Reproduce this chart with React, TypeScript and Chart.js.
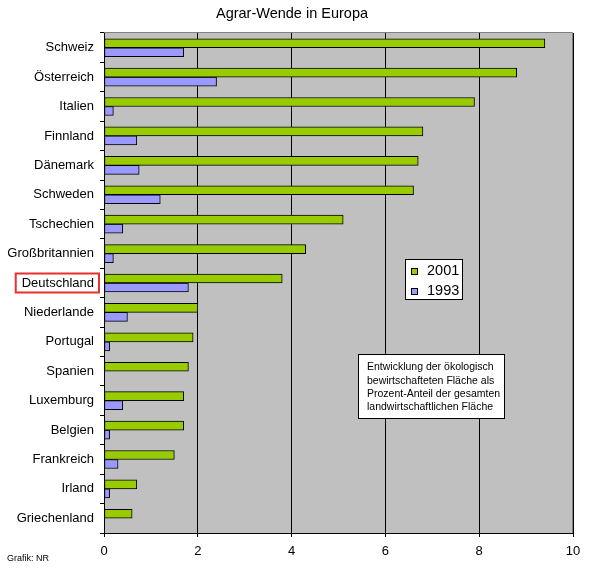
import React, { useEffect, useRef } from 'react';
import { Chart, registerables } from 'chart.js';

Chart.register(...registerables);

const countries = [
  'Schweiz', 'Österreich', 'Italien', 'Finnland', 'Dänemark', 'Schweden',
  'Tschechien', 'Großbritannien', 'Deutschland', 'Niederlande', 'Portugal',
  'Spanien', 'Luxemburg', 'Belgien', 'Frankreich', 'Irland', 'Griechenland',
];
const values2001 = [9.4, 8.8, 7.9, 6.8, 6.7, 6.6, 5.1, 4.3, 3.8, 2.0, 1.9, 1.8, 1.7, 1.7, 1.5, 0.7, 0.6];
const values1993 = [1.7, 2.4, 0.2, 0.7, 0.75, 1.2, 0.4, 0.2, 1.8, 0.5, 0.12, null, 0.4, 0.12, 0.3, 0.12, null];
const seriesLabels = ['2001', '1993'];
const seriesColors = ['#99CC00', '#9999FF'];
const xMin = 0;
const xMax = 10;
const xStep = 2;
const titleText = 'Agrar-Wende in Europa';
const noteLines = [
  'Entwicklung der ökologisch',
  'bewirtschafteten Fläche als',
  'Prozent-Anteil der gesamten',
  'landwirtschaftlichen Fläche',
];
const highlightedCountry = 'Deutschland';
const creditText = 'Grafik: NR';

const FONT = '"Liberation Sans", Arial, sans-serif';

const decorPlugin = {
  id: 'decor',
  beforeDraw(chart: any) {
    const { ctx, chartArea } = chart;
    const { left, top, right, bottom } = chartArea;
    ctx.save();
    ctx.fillStyle = '#ffffff';
    ctx.fillRect(0, 0, chart.width, chart.height);
    ctx.fillStyle = '#C0C0C0';
    ctx.fillRect(left, top, right - left, bottom - top);
    ctx.restore();
  },
  afterDraw(chart: any) {
    const { ctx, chartArea } = chart;
    const { left, top, right, bottom } = chartArea;
    ctx.save();

    // gray plot frame (top & right)
    ctx.strokeStyle = '#808080';
    ctx.lineWidth = 1;
    ctx.beginPath();
    ctx.moveTo(left, top - 0.5);
    ctx.lineTo(right - 0.5, top - 0.5);
    ctx.lineTo(right - 0.5, bottom);
    ctx.stroke();

    // title
    ctx.fillStyle = '#000';
    ctx.font = `14.5px ${FONT}`;
    ctx.textAlign = 'center';
    ctx.textBaseline = 'middle';
    ctx.fillText(titleText, 292, 14);

    // legend box
    const lx = 405, ly = 259, lw = 58, lh = 41;
    ctx.fillStyle = '#fff';
    ctx.fillRect(lx, ly, lw, lh);
    ctx.strokeStyle = '#000';
    ctx.lineWidth = 1;
    ctx.strokeRect(lx + 0.5, ly + 0.5, lw - 1, lh - 1);
    const ds = chart.data.datasets;
    ds.forEach((d: any, i: number) => {
      const cy = ly + 12 + i * 20;
      ctx.fillStyle = d.backgroundColor;
      ctx.fillRect(lx + 6, cy - 3, 7, 7);
      ctx.strokeStyle = '#000';
      ctx.strokeRect(lx + 6.5, cy - 2.5, 6, 6);
      ctx.fillStyle = '#000';
      ctx.font = `14.5px ${FONT}`;
      ctx.textAlign = 'left';
      ctx.textBaseline = 'middle';
      ctx.fillText(d.label, lx + 22, cy);
    });

    // note box
    const nx = 358, ny = 354, nw = 147, nh = 65;
    ctx.fillStyle = '#fff';
    ctx.fillRect(nx, ny, nw, nh);
    ctx.strokeStyle = '#000';
    ctx.strokeRect(nx + 0.5, ny + 0.5, nw - 1, nh - 1);
    ctx.fillStyle = '#000';
    ctx.font = `10.5px ${FONT}`;
    ctx.textAlign = 'left';
    ctx.textBaseline = 'middle';
    noteLines.forEach((t, i) => ctx.fillText(t, nx + 9, ny + 13.5 + i * 13.3));

    // highlight box around label
    const yScale = chart.scales.y;
    const idx = countries.indexOf(highlightedCountry);
    if (idx >= 0) {
      const cy = yScale.getPixelForValue(idx);
      ctx.font = `13px ${FONT}`;
      const w = ctx.measureText(highlightedCountry).width;
      const textRight = left - 10;
      const x0 = textRight - w - 6;
      const x1 = textRight + 5;
      ctx.strokeStyle = '#E8312F';
      ctx.lineWidth = 2;
      ctx.strokeRect(x0, cy - 9.5, x1 - x0, 19);
    }

    // credit
    ctx.fillStyle = '#000';
    ctx.font = `9px ${FONT}`;
    ctx.textAlign = 'left';
    ctx.textBaseline = 'alphabetic';
    ctx.fillText(creditText, 7, 561);

    ctx.restore();
  },
};

export default function App() {
  const canvasRef = useRef<HTMLCanvasElement | null>(null);

  useEffect(() => {
    const canvas = canvasRef.current;
    if (!canvas) return;
    const chart = new Chart(canvas, {
      type: 'bar',
      data: {
        labels: countries,
        datasets: [
          {
            label: seriesLabels[0],
            data: values2001,
            backgroundColor: seriesColors[0],
            borderColor: '#000',
            borderWidth: 1,
            borderSkipped: false,
            barThickness: 9,
          },
          {
            label: seriesLabels[1],
            data: values1993 as any,
            backgroundColor: seriesColors[1],
            borderColor: '#000',
            borderWidth: 1,
            borderSkipped: false,
            barThickness: 9,
          },
        ],
      },
      options: {
        indexAxis: 'y',
        responsive: false,
        animation: false,
        devicePixelRatio: 1,
        layout: { padding: { top: 33, right: 30, left: 0, bottom: 0 } },
        plugins: {
          legend: { display: false },
          title: { display: false },
          tooltip: { enabled: false },
        },
        scales: {
          x: {
            type: 'linear',
            min: xMin,
            max: xMax,
            ticks: {
              stepSize: xStep,
              color: '#000',
              font: { family: FONT, size: 13 },
              padding: 7,
            },
            grid: {
              color: '#000',
              lineWidth: 1,
              drawTicks: true,
              tickLength: 4,
              tickColor: '#000',
            },
            border: { display: true, color: '#000' },
            afterFit: (scale: any) => {
              scale.height = 38;
            },
          },
          y: {
            type: 'category',
            ticks: {
              color: '#000',
              font: { family: FONT, size: 13 },
              padding: 6,
              autoSkip: false,
            },
            grid: {
              offset: true,
              drawOnChartArea: false,
              drawTicks: true,
              tickLength: 4,
              tickColor: '#000',
              color: '#000',
            },
            border: { display: true, color: '#000' },
            afterFit: (scale: any) => {
              scale.width = 104;
            },
          },
        },
      },
      plugins: [decorPlugin],
    });
    return () => chart.destroy();
  }, []);

  return (
    <div style={{ position: 'fixed', left: 0, top: 0, width: 603, height: 571, background: '#fff' }}>
      <canvas ref={canvasRef} width={603} height={571} style={{ display: 'block', width: 603, height: 571 }} />
    </div>
  );
}
